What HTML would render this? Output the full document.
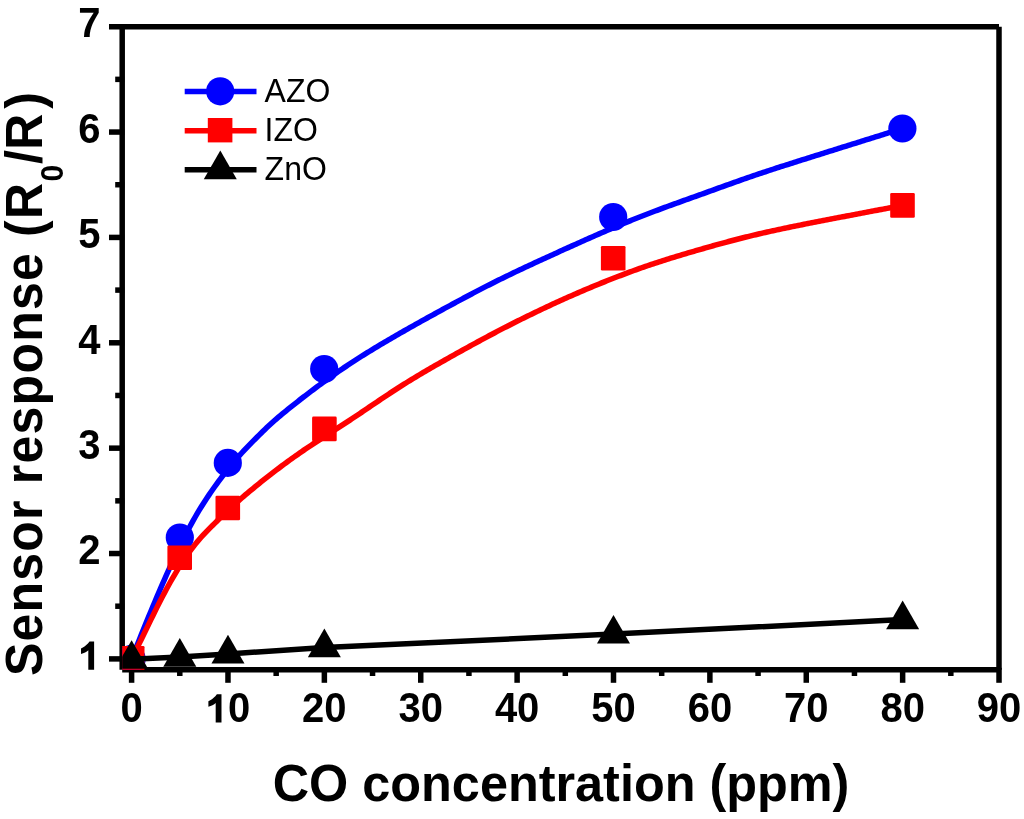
<!DOCTYPE html><html><head><meta charset="utf-8"><style>html,body{margin:0;padding:0;background:#fff;overflow:hidden;}svg{display:block;will-change:transform;}text{font-family:"Liberation Sans",sans-serif;}</style></head><body>
<svg width="1024" height="819" viewBox="0 0 1024 819">
<rect width="1024" height="819" fill="#fff"/>
<g stroke="#000" stroke-width="5.5" fill="none" stroke-linecap="butt">
<line x1="109" y1="26.70" x2="999.00" y2="26.70"/>
<line x1="122.20" y1="26.70" x2="122.20" y2="669.80"/>
<line x1="999.00" y1="26.70" x2="999.00" y2="669.80"/>
<line x1="122.20" y1="669.80" x2="999.00" y2="669.80"/>
<line x1="109" y1="658.90" x2="124.20" y2="658.90"/>
<line x1="109" y1="553.53" x2="124.20" y2="553.53"/>
<line x1="109" y1="448.16" x2="124.20" y2="448.16"/>
<line x1="109" y1="342.79" x2="124.20" y2="342.79"/>
<line x1="109" y1="237.42" x2="124.20" y2="237.42"/>
<line x1="109" y1="132.05" x2="124.20" y2="132.05"/>
<line x1="115.2" y1="606.21" x2="124.20" y2="606.21"/>
<line x1="115.2" y1="500.84" x2="124.20" y2="500.84"/>
<line x1="115.2" y1="395.47" x2="124.20" y2="395.47"/>
<line x1="115.2" y1="290.10" x2="124.20" y2="290.10"/>
<line x1="115.2" y1="184.73" x2="124.20" y2="184.73"/>
<line x1="115.2" y1="79.36" x2="124.20" y2="79.36"/>
<line x1="131.60" y1="667.80" x2="131.60" y2="682.8"/>
<line x1="227.98" y1="667.80" x2="227.98" y2="682.8"/>
<line x1="324.36" y1="667.80" x2="324.36" y2="682.8"/>
<line x1="420.74" y1="667.80" x2="420.74" y2="682.8"/>
<line x1="517.12" y1="667.80" x2="517.12" y2="682.8"/>
<line x1="613.50" y1="667.80" x2="613.50" y2="682.8"/>
<line x1="709.88" y1="667.80" x2="709.88" y2="682.8"/>
<line x1="806.26" y1="667.80" x2="806.26" y2="682.8"/>
<line x1="902.64" y1="667.80" x2="902.64" y2="682.8"/>
<line x1="999.02" y1="667.80" x2="999.02" y2="682.8"/>
<line x1="179.79" y1="667.80" x2="179.79" y2="676"/>
<line x1="276.17" y1="667.80" x2="276.17" y2="676"/>
<line x1="372.55" y1="667.80" x2="372.55" y2="676"/>
<line x1="468.93" y1="667.80" x2="468.93" y2="676"/>
<line x1="565.31" y1="667.80" x2="565.31" y2="676"/>
<line x1="661.69" y1="667.80" x2="661.69" y2="676"/>
<line x1="758.07" y1="667.80" x2="758.07" y2="676"/>
<line x1="854.45" y1="667.80" x2="854.45" y2="676"/>
<line x1="950.83" y1="667.80" x2="950.83" y2="676"/>
</g>
<g font-weight="bold" font-size="40" fill="#000">
<path transform="translate(78.36,669.70) scale(1,1.04)" d="M2.65,-20.3 C4.6,-21.1 6.2,-22.0 7.6,-23.4 C9.0,-24.7 10.3,-25.9 11.15,-27.1 L15.75,-27.1 L15.75,0 L9.95,0 L9.95,-18.6 C8.2,-17.1 5.6,-15.7 2.65,-15.0 Z"/>
<text transform="translate(100.60,564.33) scale(1,1.04)" text-anchor="end">2</text>
<text transform="translate(100.60,458.96) scale(1,1.04)" text-anchor="end">3</text>
<text transform="translate(100.60,353.59) scale(1,1.04)" text-anchor="end">4</text>
<text transform="translate(100.60,248.22) scale(1,1.04)" text-anchor="end">5</text>
<text transform="translate(100.60,142.85) scale(1,1.04)" text-anchor="end">6</text>
<text transform="translate(100.60,37.48) scale(1,1.04)" text-anchor="end">7</text>
<text transform="translate(131.60,722.40) scale(1,1.04)" text-anchor="middle">0</text>
<path transform="translate(205.74,722.40) scale(1,1.04)" d="M2.65,-20.3 C4.6,-21.1 6.2,-22.0 7.6,-23.4 C9.0,-24.7 10.3,-25.9 11.15,-27.1 L15.75,-27.1 L15.75,0 L9.95,0 L9.95,-18.6 C8.2,-17.1 5.6,-15.7 2.65,-15.0 Z"/>
<text transform="translate(227.98,722.40) scale(1,1.04)">0</text>
<text transform="translate(324.36,722.40) scale(1,1.04)" text-anchor="middle">20</text>
<text transform="translate(420.74,722.40) scale(1,1.04)" text-anchor="middle">30</text>
<text transform="translate(517.12,722.40) scale(1,1.04)" text-anchor="middle">40</text>
<text transform="translate(613.50,722.40) scale(1,1.04)" text-anchor="middle">50</text>
<text transform="translate(709.88,722.40) scale(1,1.04)" text-anchor="middle">60</text>
<text transform="translate(806.26,722.40) scale(1,1.04)" text-anchor="middle">70</text>
<text transform="translate(902.64,722.40) scale(1,1.04)" text-anchor="middle">80</text>
<text transform="translate(999.02,722.40) scale(1,1.04)" text-anchor="middle">90</text>
</g>
<text transform="translate(272.70,800.50) scale(1,1.04)" font-weight="bold" font-size="50.4">CO concentration (ppm)</text>
<g transform="translate(41.90,676.10) rotate(-90) scale(1,1.04)" font-weight="bold" font-size="50">
<text x="0" y="0" letter-spacing="1.23">Sensor response (R</text>
<text x="512.20" y="0">/</text><text x="526.45" y="0">R</text><text x="567.25" y="0">)</text>
<text x="494.60" y="20.38" font-size="30">0</text>
</g>
<defs><clipPath id="c"><rect x="122.2" y="26.7" width="876.8" height="643.1"/></clipPath></defs>
<g clip-path="url(#c)">
<path d="M131.60,658.90 L133.53,654.09 L135.46,649.28 L137.40,644.47 L139.33,639.66 L141.26,634.85 L143.19,630.06 L145.12,625.29 L147.05,620.55 L148.99,615.85 L150.92,611.18 L152.85,606.55 L154.78,601.95 L156.71,597.39 L158.65,592.87 L160.58,588.39 L162.51,583.94 L164.44,579.54 L166.37,575.18 L168.30,570.87 L170.24,566.61 L172.17,562.41 L174.10,558.25 L176.03,554.16 L177.96,550.12 L179.90,546.14 L181.83,542.22 L183.76,538.37 L185.69,534.59 L187.62,530.88 L189.55,527.24 L191.49,523.67 L193.42,520.18 L195.35,516.77 L197.28,513.44 L199.21,510.19 L201.15,507.03 L203.08,503.94 L205.01,500.94 L206.94,498.00 L208.87,495.12 L210.81,492.29 L212.74,489.50 L214.67,486.76 L216.60,484.07 L218.53,481.41 L220.46,478.81 L222.40,476.25 L224.33,473.73 L226.26,471.25 L228.19,468.82 L230.12,466.43 L232.06,464.08 L233.99,461.78 L235.92,459.51 L237.85,457.29 L239.78,455.11 L241.71,452.98 L243.65,450.88 L245.58,448.82 L247.51,446.80 L249.44,444.81 L251.37,442.84 L253.31,440.89 L255.24,438.95 L257.17,437.02 L259.10,435.10 L261.03,433.19 L262.96,431.30 L264.90,429.43 L266.83,427.58 L268.76,425.76 L270.69,423.97 L272.62,422.21 L274.56,420.49 L276.49,418.81 L278.42,417.16 L280.35,415.54 L282.28,413.94 L284.21,412.35 L286.15,410.78 L288.08,409.22 L290.01,407.67 L291.94,406.12 L293.87,404.59 L295.81,403.07 L297.74,401.55 L299.67,400.04 L301.60,398.54 L303.53,397.05 L305.46,395.56 L307.40,394.09 L309.33,392.62 L311.26,391.16 L313.19,389.70 L315.12,388.26 L317.06,386.82 L318.99,385.40 L320.92,383.98 L322.85,382.57 L324.78,381.17 L326.71,379.77 L328.65,378.39 L330.58,377.01 L332.51,375.65 L334.44,374.29 L336.37,372.95 L338.31,371.61 L340.24,370.28 L342.17,368.96 L344.10,367.65 L346.03,366.35 L347.96,365.06 L349.90,363.78 L351.83,362.51 L353.76,361.25 L355.69,360.00 L357.62,358.76 L359.56,357.53 L361.49,356.30 L363.42,355.09 L365.35,353.88 L367.28,352.68 L369.22,351.49 L371.15,350.30 L373.08,349.13 L375.01,347.96 L376.94,346.79 L378.87,345.63 L380.81,344.48 L382.74,343.33 L384.67,342.19 L386.60,341.06 L388.53,339.92 L390.47,338.80 L392.40,337.67 L394.33,336.55 L396.26,335.44 L398.19,334.33 L400.12,333.22 L402.06,332.11 L403.99,331.01 L405.92,329.91 L407.85,328.81 L409.78,327.72 L411.72,326.63 L413.65,325.54 L415.58,324.45 L417.51,323.37 L419.44,322.29 L421.37,321.21 L423.31,320.13 L425.24,319.06 L427.17,317.99 L429.10,316.92 L431.03,315.85 L432.97,314.79 L434.90,313.73 L436.83,312.67 L438.76,311.61 L440.69,310.55 L442.62,309.50 L444.56,308.45 L446.49,307.40 L448.42,306.35 L450.35,305.30 L452.28,304.26 L454.22,303.22 L456.15,302.18 L458.08,301.14 L460.01,300.10 L461.94,299.07 L463.87,298.04 L465.81,297.01 L467.74,295.99 L469.67,294.96 L471.60,293.95 L473.53,292.93 L475.47,291.92 L477.40,290.91 L479.33,289.90 L481.26,288.90 L483.19,287.91 L485.12,286.91 L487.06,285.92 L488.99,284.94 L490.92,283.96 L492.85,282.98 L494.78,282.01 L496.72,281.04 L498.65,280.08 L500.58,279.13 L502.51,278.17 L504.44,277.23 L506.37,276.29 L508.31,275.35 L510.24,274.42 L512.17,273.49 L514.10,272.56 L516.03,271.64 L517.97,270.72 L519.90,269.81 L521.83,268.90 L523.76,267.99 L525.69,267.09 L527.63,266.19 L529.56,265.29 L531.49,264.39 L533.42,263.50 L535.35,262.60 L537.28,261.71 L539.22,260.83 L541.15,259.94 L543.08,259.05 L545.01,258.17 L546.94,257.29 L548.88,256.40 L550.81,255.52 L552.74,254.64 L554.67,253.76 L556.60,252.88 L558.53,252.00 L560.47,251.12 L562.40,250.25 L564.33,249.37 L566.26,248.49 L568.19,247.62 L570.13,246.75 L572.06,245.88 L573.99,245.01 L575.92,244.14 L577.85,243.28 L579.78,242.41 L581.72,241.55 L583.65,240.69 L585.58,239.83 L587.51,238.98 L589.44,238.12 L591.38,237.27 L593.31,236.42 L595.24,235.58 L597.17,234.73 L599.10,233.89 L601.03,233.05 L602.97,232.22 L604.90,231.38 L606.83,230.55 L608.76,229.73 L610.69,228.90 L612.63,228.08 L614.56,227.27 L616.49,226.45 L618.42,225.64 L620.35,224.84 L622.28,224.03 L624.22,223.23 L626.15,222.44 L628.08,221.65 L630.01,220.86 L631.94,220.07 L633.88,219.30 L635.81,218.52 L637.74,217.75 L639.67,216.98 L641.60,216.22 L643.53,215.46 L645.47,214.71 L647.40,213.96 L649.33,213.22 L651.26,212.48 L653.19,211.75 L655.13,211.02 L657.06,210.30 L658.99,209.57 L660.92,208.86 L662.85,208.15 L664.78,207.44 L666.72,206.73 L668.65,206.02 L670.58,205.32 L672.51,204.62 L674.44,203.93 L676.38,203.23 L678.31,202.54 L680.24,201.85 L682.17,201.15 L684.10,200.46 L686.04,199.77 L687.97,199.08 L689.90,198.39 L691.83,197.71 L693.76,197.02 L695.69,196.32 L697.63,195.63 L699.56,194.94 L701.49,194.25 L703.42,193.55 L705.35,192.85 L707.29,192.16 L709.22,191.46 L711.15,190.76 L713.08,190.06 L715.01,189.36 L716.94,188.66 L718.88,187.96 L720.81,187.27 L722.74,186.57 L724.67,185.87 L726.60,185.18 L728.54,184.48 L730.47,183.79 L732.40,183.10 L734.33,182.41 L736.26,181.72 L738.19,181.04 L740.13,180.35 L742.06,179.67 L743.99,179.00 L745.92,178.32 L747.85,177.65 L749.79,176.99 L751.72,176.32 L753.65,175.66 L755.58,175.01 L757.51,174.36 L759.44,173.71 L761.38,173.06 L763.31,172.42 L765.24,171.78 L767.17,171.14 L769.10,170.50 L771.04,169.87 L772.97,169.24 L774.90,168.61 L776.83,167.99 L778.76,167.36 L780.69,166.74 L782.63,166.12 L784.56,165.50 L786.49,164.88 L788.42,164.27 L790.35,163.65 L792.29,163.04 L794.22,162.43 L796.15,161.81 L798.08,161.20 L800.01,160.59 L801.94,159.98 L803.88,159.37 L805.81,158.76 L807.74,158.15 L809.67,157.54 L811.60,156.94 L813.54,156.33 L815.47,155.72 L817.40,155.11 L819.33,154.51 L821.26,153.90 L823.19,153.29 L825.13,152.69 L827.06,152.08 L828.99,151.48 L830.92,150.87 L832.85,150.27 L834.79,149.66 L836.72,149.06 L838.65,148.45 L840.58,147.85 L842.51,147.24 L844.45,146.64 L846.38,146.03 L848.31,145.43 L850.24,144.82 L852.17,144.22 L854.10,143.61 L856.04,143.01 L857.97,142.41 L859.90,141.80 L861.83,141.20 L863.76,140.59 L865.70,139.99 L867.63,139.38 L869.56,138.78 L871.49,138.17 L873.42,137.57 L875.35,136.96 L877.29,136.36 L879.22,135.76 L881.15,135.15 L883.08,134.55 L885.01,133.94 L886.95,133.34 L888.88,132.73 L890.81,132.13 L892.74,131.52 L894.67,130.92 L896.60,130.31 L898.54,129.71 L900.47,129.10 L902.40,128.50" stroke="#0000ff" stroke-width="5.5" fill="none"/>
<circle cx="131.60" cy="658.90" r="14.1" fill="#0000ff"/>
<circle cx="179.80" cy="537.50" r="14.1" fill="#0000ff"/>
<circle cx="227.80" cy="462.90" r="14.1" fill="#0000ff"/>
<circle cx="324.20" cy="369.00" r="14.1" fill="#0000ff"/>
<circle cx="613.20" cy="217.00" r="14.1" fill="#0000ff"/>
<circle cx="902.40" cy="128.50" r="14.1" fill="#0000ff"/>
<path d="M131.60,658.90 L133.53,655.04 L135.46,651.16 L137.40,647.28 L139.33,643.38 L141.26,639.46 L143.19,635.51 L145.12,631.55 L147.06,627.59 L148.99,623.61 L150.92,619.65 L152.85,615.70 L154.78,611.77 L156.72,607.88 L158.65,604.03 L160.58,600.24 L162.51,596.51 L164.45,592.85 L166.38,589.25 L168.31,585.73 L170.24,582.28 L172.17,578.89 L174.11,575.58 L176.04,572.34 L177.97,569.17 L179.90,566.08 L181.83,563.07 L183.77,560.13 L185.70,557.26 L187.63,554.48 L189.56,551.77 L191.49,549.15 L193.43,546.61 L195.36,544.15 L197.29,541.77 L199.22,539.48 L201.15,537.27 L203.09,535.14 L205.02,533.08 L206.95,531.07 L208.88,529.10 L210.82,527.16 L212.75,525.24 L214.68,523.33 L216.61,521.43 L218.54,519.53 L220.48,517.65 L222.41,515.78 L224.34,513.92 L226.27,512.07 L228.20,510.24 L230.14,508.43 L232.07,506.63 L234.00,504.86 L235.93,503.11 L237.86,501.38 L239.80,499.67 L241.73,497.99 L243.66,496.34 L245.59,494.70 L247.52,493.08 L249.46,491.47 L251.39,489.87 L253.32,488.27 L255.25,486.68 L257.19,485.10 L259.12,483.53 L261.05,481.97 L262.98,480.42 L264.91,478.88 L266.85,477.36 L268.78,475.84 L270.71,474.34 L272.64,472.85 L274.57,471.37 L276.51,469.90 L278.44,468.45 L280.37,467.00 L282.30,465.56 L284.23,464.13 L286.17,462.71 L288.10,461.30 L290.03,459.89 L291.96,458.50 L293.89,457.13 L295.83,455.76 L297.76,454.40 L299.69,453.05 L301.62,451.72 L303.56,450.39 L305.49,449.08 L307.42,447.78 L309.35,446.48 L311.28,445.19 L313.22,443.91 L315.15,442.64 L317.08,441.37 L319.01,440.11 L320.94,438.85 L322.88,437.60 L324.81,436.35 L326.74,435.11 L328.67,433.86 L330.60,432.62 L332.54,431.37 L334.47,430.13 L336.40,428.89 L338.33,427.64 L340.26,426.39 L342.20,425.14 L344.13,423.89 L346.06,422.63 L347.99,421.36 L349.93,420.09 L351.86,418.82 L353.79,417.54 L355.72,416.25 L357.65,414.96 L359.59,413.66 L361.52,412.37 L363.45,411.06 L365.38,409.76 L367.31,408.46 L369.25,407.15 L371.18,405.84 L373.11,404.54 L375.04,403.23 L376.97,401.93 L378.91,400.63 L380.84,399.33 L382.77,398.03 L384.70,396.74 L386.63,395.46 L388.57,394.18 L390.50,392.90 L392.43,391.63 L394.36,390.37 L396.29,389.12 L398.23,387.87 L400.16,386.64 L402.09,385.41 L404.02,384.19 L405.96,382.98 L407.89,381.78 L409.82,380.59 L411.75,379.41 L413.68,378.23 L415.62,377.06 L417.55,375.90 L419.48,374.75 L421.41,373.60 L423.34,372.46 L425.28,371.32 L427.21,370.19 L429.14,369.07 L431.07,367.95 L433.00,366.83 L434.94,365.72 L436.87,364.62 L438.80,363.51 L440.73,362.41 L442.66,361.32 L444.60,360.23 L446.53,359.14 L448.46,358.05 L450.39,356.96 L452.33,355.88 L454.26,354.80 L456.19,353.72 L458.12,352.64 L460.05,351.57 L461.99,350.49 L463.92,349.42 L465.85,348.36 L467.78,347.29 L469.71,346.23 L471.65,345.17 L473.58,344.11 L475.51,343.06 L477.44,342.01 L479.37,340.96 L481.31,339.92 L483.24,338.88 L485.17,337.84 L487.10,336.81 L489.03,335.78 L490.97,334.75 L492.90,333.73 L494.83,332.71 L496.76,331.69 L498.70,330.68 L500.63,329.68 L502.56,328.68 L504.49,327.68 L506.42,326.69 L508.36,325.70 L510.29,324.71 L512.22,323.73 L514.15,322.75 L516.08,321.78 L518.02,320.81 L519.95,319.85 L521.88,318.89 L523.81,317.94 L525.74,316.99 L527.68,316.04 L529.61,315.10 L531.54,314.16 L533.47,313.22 L535.40,312.29 L537.34,311.37 L539.27,310.44 L541.20,309.53 L543.13,308.61 L545.07,307.70 L547.00,306.80 L548.93,305.90 L550.86,305.00 L552.79,304.11 L554.73,303.22 L556.66,302.33 L558.59,301.45 L560.52,300.57 L562.45,299.70 L564.39,298.83 L566.32,297.97 L568.25,297.11 L570.18,296.25 L572.11,295.40 L574.05,294.56 L575.98,293.71 L577.91,292.87 L579.84,292.04 L581.77,291.21 L583.71,290.38 L585.64,289.56 L587.57,288.75 L589.50,287.93 L591.44,287.13 L593.37,286.32 L595.30,285.52 L597.23,284.73 L599.16,283.94 L601.10,283.15 L603.03,282.37 L604.96,281.60 L606.89,280.82 L608.82,280.06 L610.76,279.30 L612.69,278.54 L614.62,277.78 L616.55,277.04 L618.48,276.29 L620.42,275.56 L622.35,274.82 L624.28,274.09 L626.21,273.37 L628.14,272.65 L630.08,271.94 L632.01,271.23 L633.94,270.53 L635.87,269.84 L637.81,269.14 L639.74,268.46 L641.67,267.78 L643.60,267.10 L645.53,266.43 L647.47,265.77 L649.40,265.11 L651.33,264.46 L653.26,263.81 L655.19,263.17 L657.13,262.54 L659.06,261.91 L660.99,261.28 L662.92,260.66 L664.85,260.04 L666.79,259.43 L668.72,258.83 L670.65,258.22 L672.58,257.62 L674.51,257.03 L676.45,256.44 L678.38,255.85 L680.31,255.27 L682.24,254.69 L684.17,254.11 L686.11,253.54 L688.04,252.97 L689.97,252.40 L691.90,251.83 L693.84,251.27 L695.77,250.71 L697.70,250.15 L699.63,249.60 L701.56,249.04 L703.50,248.49 L705.43,247.94 L707.36,247.39 L709.29,246.84 L711.22,246.30 L713.16,245.76 L715.09,245.22 L717.02,244.68 L718.95,244.15 L720.88,243.62 L722.82,243.09 L724.75,242.57 L726.68,242.05 L728.61,241.53 L730.54,241.02 L732.48,240.51 L734.41,240.00 L736.34,239.50 L738.27,239.00 L740.21,238.50 L742.14,238.01 L744.07,237.53 L746.00,237.04 L747.93,236.57 L749.87,236.09 L751.80,235.62 L753.73,235.16 L755.66,234.70 L757.59,234.24 L759.53,233.79 L761.46,233.34 L763.39,232.90 L765.32,232.46 L767.25,232.03 L769.19,231.59 L771.12,231.17 L773.05,230.74 L774.98,230.32 L776.91,229.90 L778.85,229.48 L780.78,229.07 L782.71,228.66 L784.64,228.25 L786.58,227.85 L788.51,227.45 L790.44,227.05 L792.37,226.65 L794.30,226.25 L796.24,225.86 L798.17,225.47 L800.10,225.08 L802.03,224.69 L803.96,224.30 L805.90,223.92 L807.83,223.53 L809.76,223.15 L811.69,222.77 L813.62,222.39 L815.56,222.01 L817.49,221.64 L819.42,221.26 L821.35,220.88 L823.28,220.51 L825.22,220.14 L827.15,219.76 L829.08,219.39 L831.01,219.02 L832.95,218.65 L834.88,218.28 L836.81,217.91 L838.74,217.54 L840.67,217.17 L842.61,216.81 L844.54,216.44 L846.47,216.07 L848.40,215.70 L850.33,215.33 L852.27,214.97 L854.20,214.60 L856.13,214.23 L858.06,213.86 L859.99,213.49 L861.93,213.13 L863.86,212.76 L865.79,212.39 L867.72,212.02 L869.65,211.66 L871.59,211.29 L873.52,210.92 L875.45,210.55 L877.38,210.18 L879.32,209.82 L881.25,209.45 L883.18,209.08 L885.11,208.71 L887.04,208.34 L888.98,207.98 L890.91,207.61 L892.84,207.24 L894.77,206.87 L896.70,206.50 L898.64,206.14 L900.57,205.77 L902.50,205.40" stroke="#ff0000" stroke-width="5.5" fill="none"/>
<rect x="119.90" y="645.90" width="24.6" height="24.6" rx="1.3" fill="#ff0000"/>
<rect x="167.40" y="545.50" width="24.6" height="24.6" rx="1.3" fill="#ff0000"/>
<rect x="215.50" y="495.70" width="24.6" height="24.6" rx="1.3" fill="#ff0000"/>
<rect x="312.10" y="416.60" width="24.6" height="24.6" rx="1.3" fill="#ff0000"/>
<rect x="600.90" y="245.90" width="24.6" height="24.6" rx="1.3" fill="#ff0000"/>
<rect x="890.20" y="193.10" width="24.6" height="24.6" rx="1.3" fill="#ff0000"/>
<path d="M131.60,659.20 L179.79,657.10 L227.98,653.90 L324.36,647.60 L613.50,634.07 L902.64,619.60" stroke="#000" stroke-width="5.5" fill="none"/>
<path d="M131.60,640.13 L148.11,668.74 L115.09,668.74 Z" fill="#000"/>
<path d="M179.79,638.03 L196.30,666.63 L163.28,666.63 Z" fill="#000"/>
<path d="M227.98,634.83 L244.49,663.43 L211.47,663.43 Z" fill="#000"/>
<path d="M324.36,628.53 L340.87,657.13 L307.85,657.13 Z" fill="#000"/>
<path d="M613.50,615.00 L630.01,643.61 L596.99,643.61 Z" fill="#000"/>
<path d="M902.64,600.53 L919.15,629.13 L886.13,629.13 Z" fill="#000"/>
</g>
<g stroke-width="5.5">
<line x1="184.7" y1="91.6" x2="256.5" y2="91.6" stroke="#0000ff"/><circle cx="220.2" cy="91.3" r="14.1" fill="#0000ff"/>
<line x1="184.7" y1="130.7" x2="256.5" y2="130.7" stroke="#ff0000"/><rect x="207.8" y="118" width="24.6" height="24.4" fill="#ff0000"/>
<line x1="184.7" y1="169.7" x2="256.5" y2="169.7" stroke="#000"/>
<path d="M220.30,150.53 L236.81,179.13 L203.79,179.13 Z" fill="#000"/>
</g>
<g font-size="32" fill="#000">
<text transform="translate(264.60,102.20) scale(1,1.04)">AZO</text>
<text transform="translate(264.60,141.20) scale(1,1.04)">IZO</text>
<text transform="translate(264.60,180.40) scale(1,1.04)">ZnO</text>
</g>
</svg></body></html>
